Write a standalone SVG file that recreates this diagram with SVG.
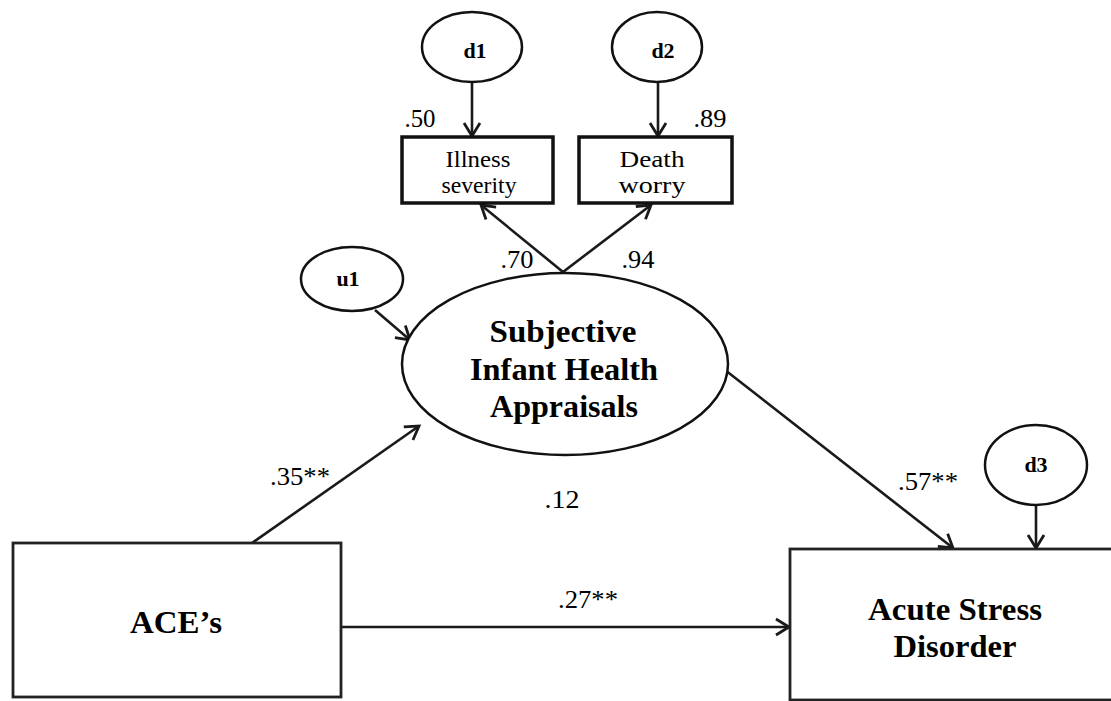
<svg xmlns="http://www.w3.org/2000/svg" width="1111" height="701" viewBox="0 0 1111 701">
<defs>
<marker id="arr" markerUnits="userSpaceOnUse" markerWidth="22" markerHeight="22" viewBox="-15 -11 17 22" refX="0" refY="0" orient="auto">
<path d="M-13,-8 L0,0 L-13,8" fill="none" stroke="#1a1a1a" stroke-width="2.8"/>
</marker>
</defs>
<style>
.bg{fill:#fff}
.ell{fill:#fff;stroke:#111;stroke-width:2.5}
.box{fill:#fff;stroke:#222;stroke-width:2.8}
.sbox{fill:#fff;stroke:#111;stroke-width:3.5}
.con{stroke:#1a1a1a;stroke-width:2.6;fill:none;marker-end:url(#arr)}
text{font-family:"Liberation Serif","Times New Roman",serif;fill:#000;text-anchor:middle}
.big{font-size:31px;font-weight:bold}
.num{font-size:25px}
.sm{font-size:23px}
.lat{font-size:22px;font-weight:bold}
</style>
<rect class="bg" x="0" y="0" width="1111" height="701"/>

<g id="connectors">
<line class="con" x1="472" y1="82" x2="472" y2="136"/>
<line class="con" x1="658" y1="82" x2="658" y2="136"/>
<line class="con" x1="563" y1="272" x2="481" y2="205"/>
<line class="con" x1="563" y1="272" x2="651" y2="205"/>
<line class="con" x1="375" y1="310" x2="410" y2="340"/>
<line class="con" x1="252" y1="543" x2="419" y2="426"/>
<line class="con" x1="725" y1="370" x2="953" y2="548"/>
<line class="con" x1="1036" y1="505" x2="1036" y2="548"/>
<line class="con" x1="341" y1="627" x2="789" y2="627"/>
</g>

<g id="d1">
<ellipse class="ell" cx="472" cy="47" rx="50" ry="35"/>
<text class="lat" x="475" y="58">d1</text>
</g>
<g id="d2">
<ellipse class="ell" cx="657" cy="47" rx="45" ry="35"/>
<text class="lat" x="663" y="58">d2</text>
</g>
<g id="illness">
<rect class="sbox" x="402" y="137" width="151" height="66"/>
<text class="sm" x="478" y="167" textLength="65" lengthAdjust="spacingAndGlyphs">Illness</text>
<text class="sm" x="479" y="193" textLength="75" lengthAdjust="spacingAndGlyphs">severity</text>
</g>
<g id="death">
<rect class="sbox" x="579" y="137" width="153" height="66"/>
<text class="sm" x="652" y="167" textLength="65" lengthAdjust="spacingAndGlyphs">Death</text>
<text class="sm" x="652" y="193" textLength="67" lengthAdjust="spacingAndGlyphs">worry</text>
</g>
<g id="u1">
<ellipse class="ell" cx="352" cy="279" rx="51" ry="32"/>
<text class="lat" x="348" y="286">u1</text>
</g>
<g id="siha">
<ellipse class="ell" cx="565" cy="364" rx="163" ry="91"/>
<text class="big" x="563" y="342" textLength="147" lengthAdjust="spacingAndGlyphs">Subjective</text>
<text class="big" x="564" y="380" textLength="188" lengthAdjust="spacingAndGlyphs">Infant Health</text>
<text class="big" x="564" y="417" textLength="148" lengthAdjust="spacingAndGlyphs">Appraisals</text>
</g>
<g id="aces">
<rect class="box" x="13" y="543" width="328" height="154"/>
<text class="big" x="176" y="633" textLength="92" lengthAdjust="spacingAndGlyphs">ACE’s</text>
</g>
<g id="d3">
<ellipse class="ell" cx="1036" cy="465" rx="51" ry="40"/>
<text class="lat" x="1036" y="472">d3</text>
</g>
<g id="asd">
<rect class="box" x="790" y="549" width="340" height="151"/>
<text class="big" x="955" y="620" textLength="174" lengthAdjust="spacingAndGlyphs">Acute Stress</text>
<text class="big" x="955" y="657" textLength="123" lengthAdjust="spacingAndGlyphs">Disorder</text>
</g>

<g id="labels">
<text class="num" x="420" y="127" textLength="31" lengthAdjust="spacingAndGlyphs">.50</text>
<text class="num" x="710" y="127" textLength="33" lengthAdjust="spacingAndGlyphs">.89</text>
<text class="num" x="517" y="268" textLength="33" lengthAdjust="spacingAndGlyphs">.70</text>
<text class="num" x="638" y="268" textLength="33" lengthAdjust="spacingAndGlyphs">.94</text>
<text class="num" x="300" y="485" textLength="60" lengthAdjust="spacingAndGlyphs">.35**</text>
<text class="num" x="562" y="508" textLength="35" lengthAdjust="spacingAndGlyphs">.12</text>
<text class="num" x="588" y="608" textLength="60" lengthAdjust="spacingAndGlyphs">.27**</text>
<text class="num" x="928" y="490" textLength="60" lengthAdjust="spacingAndGlyphs">.57**</text>
</g>
</svg>
